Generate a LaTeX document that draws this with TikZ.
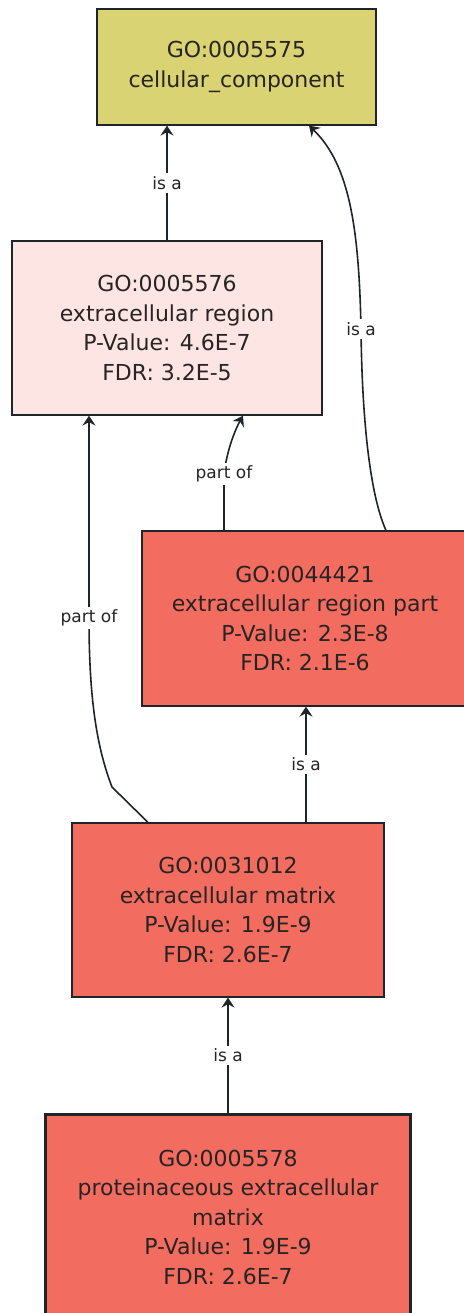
\documentclass[tikz,border=0pt]{standalone}
\usepackage{fontspec}
\setmainfont{DejaVu Sans}
\usetikzlibrary{positioning,arrows.meta}
\definecolor{ccyellow}{RGB}{217,211,115}
\definecolor{lightpink}{RGB}{252,229,226}
\definecolor{salmon}{RGB}{242,108,96}
\definecolor{edgeink}{RGB}{30,36,40}
\definecolor{textink}{RGB}{40,36,36}

\begin{document}
\begin{tikzpicture}
  [x=1pt, y=-1pt,
   term/.style={
    rectangle,
    draw=edgeink,
    line width=1.2pt,
    align=center,
    inner sep=0pt,
    text=textink,
    font=\fontsize{22}{29.5}\selectfont
    },
   rel/.style={
    draw=edgeink,
    line width=1.6pt,
    -{Stealth[length=10pt,width=13pt,inset=3.5pt]}
    },
   relname/.style={
    fill=white,
    inner sep=3pt,
    text=textink,
    font=\fontsize{17}{20}\selectfont
    }
  ]
  \useasboundingbox (0,0) rectangle (463,1313);

  \node [term, fill=ccyellow, minimum width=279pt, minimum height=116pt]
    (go5575) at (236.5,67)
    {GO:0005575\\cellular\_component};

  \node [term, fill=lightpink, minimum width=310pt, minimum height=174pt]
    (go5576) at (167,328)
    {GO:0005576\\extracellular region\\P-Value: 4.6E-7\\FDR: 3.2E-5};

  \node [term, fill=salmon, minimum width=326pt, minimum height=175pt]
    (go44421) at (305,618.5)
    {GO:0044421\\extracellular region part\\P-Value: 2.3E-8\\FDR: 2.1E-6};

  \node [term, fill=salmon, minimum width=312pt, minimum height=174pt]
    (go31012) at (228,910)
    {GO:0031012\\extracellular matrix\\P-Value: 1.9E-9\\FDR: 2.6E-7};

  \node [term, fill=salmon, line width=3pt, minimum width=365pt, minimum height=206pt,
    below=115pt of go31012.south, anchor=north]
    (go5578)
    {GO:0005578\\proteinaceous extracellular\\matrix\\P-Value: 1.9E-9\\FDR: 2.6E-7};

  % is a / part of links, child to parent
  \draw [rel] (go5576.north) -- node [relname] {is a} (go5576.north |- go5575.south);

  \draw [rel] ([xshift=81pt]go44421.north) .. controls (370,495) and (362,420) ..
    node [relname, pos=1] {is a} (361,329)
    .. controls (359,230) and (350,165) .. ([xshift=72.5pt]go5575.south);

  \draw [rel] ([xshift=-81pt]go44421.north) -- node [relname, pos=1] {part of} (224,474)
    .. controls (227,450) and (235,430) .. ([xshift=76pt]go5576.south);

  \draw [rel] ([xshift=-80pt]go31012.north) -- (112,787)
    .. controls (97,748) and (89,700) .. node [relname, pos=1] {part of} (89,618)
    -- ([xshift=-78pt]go5576.south);

  \draw [rel] ([xshift=78pt]go31012.north) -- node [relname] {is a}
    ([xshift=78pt]go31012.north |- go44421.south);

  \draw [rel] (go5578.north) -- node [relname] {is a} (go5578.north |- go31012.south);
\end{tikzpicture}
\end{document}
